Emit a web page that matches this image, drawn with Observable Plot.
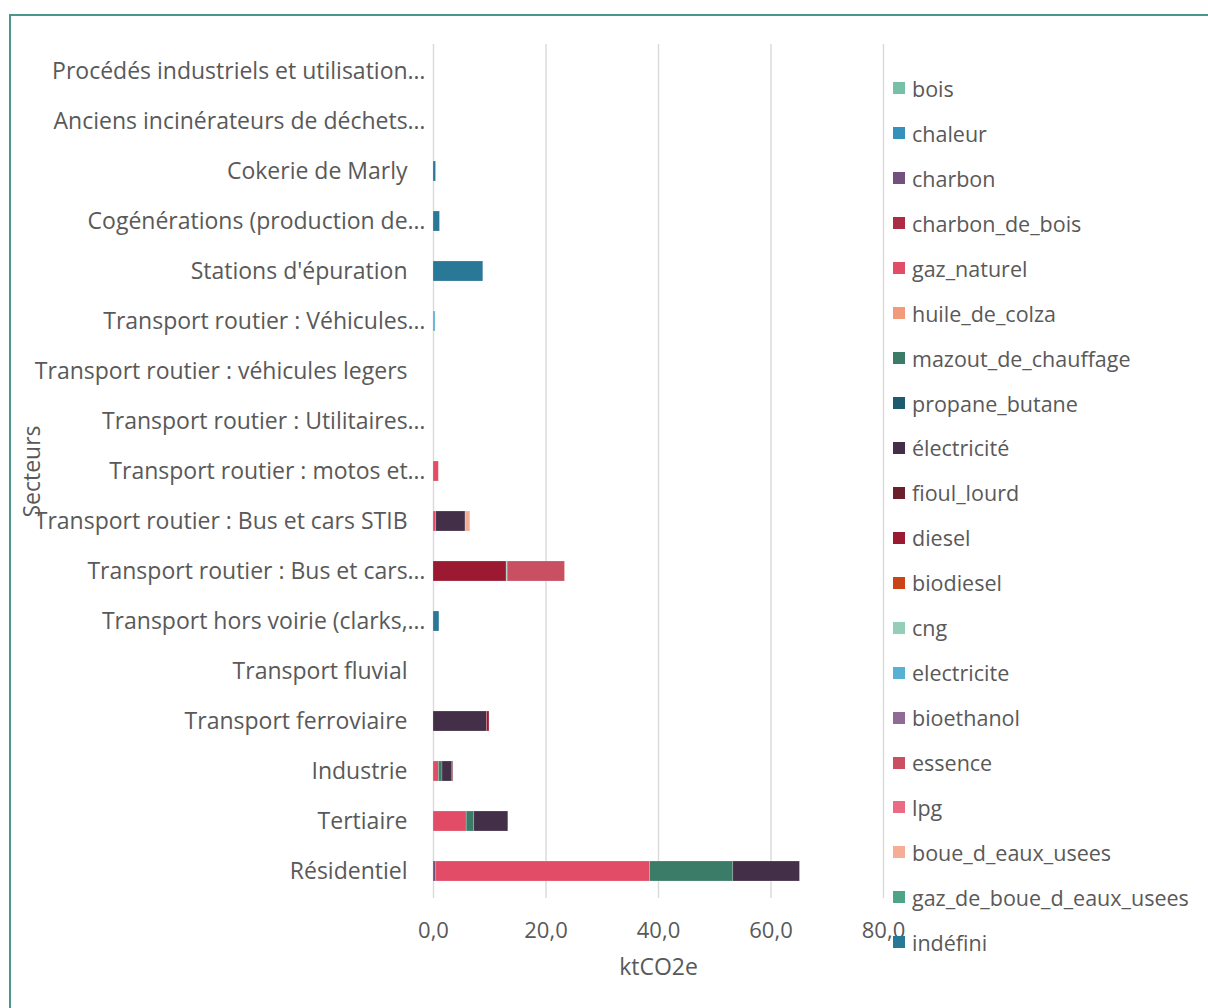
<!DOCTYPE html>
<html>
<head>
<meta charset="utf-8">
<script src="https://cdn.jsdelivr.net/npm/d3@7"></script>
<script src="https://cdn.jsdelivr.net/npm/@observablehq/plot@0.6"></script>
<style>
  html, body { margin: 0; padding: 0; background: #fff; width: 1208px; height: 1008px; overflow: hidden; }
  #frame { position: absolute; left: 9px; top: 14px; width: 1300px; height: 1100px; border: 2px solid #4a968b; box-sizing: border-box; }
  #chart { position: absolute; left: 0; top: 0; }
  #legend { position: absolute; left: 893px; top: 66px; font-family: "Open Sans", sans-serif; font-size: 21.5px; color: #595959; }
  .item { height: 44.95px; display: flex; align-items: center; white-space: nowrap; }
  .sw { width: 12px; height: 12px; margin-right: 7px; flex: none; }
</style>
</head>
<body>
<div id="frame"></div>
<div id="chart"></div>
<div id="legend"></div>
<script>
const categories = [
  "Procédés industriels et utilisation…",
  "Anciens incinérateurs de déchets…",
  "Cokerie de Marly",
  "Cogénérations (production de…",
  "Stations d'épuration",
  "Transport routier : Véhicules…",
  "Transport routier : véhicules legers",
  "Transport routier : Utilitaires…",
  "Transport routier : motos et…",
  "Transport routier : Bus et cars STIB",
  "Transport routier : Bus et cars…",
  "Transport hors voirie (clarks,…",
  "Transport fluvial",
  "Transport ferroviaire",
  "Industrie",
  "Tertiaire",
  "Résidentiel"
];

const fuels = ["bois","chaleur","charbon","charbon_de_bois","gaz_naturel","huile_de_colza",
  "mazout_de_chauffage","propane_butane","électricité","fioul_lourd","diesel","biodiesel",
  "cng","electricite","bioethanol","essence","lpg","boue_d_eaux_usees",
  "gaz_de_boue_d_eaux_usees","indéfini"];

const fuelColors = ["#76c0a7","#3592bb","#73507e","#ac2c48","#e34c67","#f29b7c",
  "#3a7c68","#1e5a70","#432f48","#6a1f2d","#9b1a31","#c94416",
  "#95cdb9","#58b0d3","#926a98","#c94f63","#ea6b83","#f5ae95",
  "#4da586","#2a7898"];

// stacked segments (sector, fuel, ktCO2e)
const segSector = [
  "Cokerie de Marly",
  "Cogénérations (production de…",
  "Stations d'épuration",
  "Transport routier : Véhicules…",
  "Transport routier : motos et…",
  "Transport routier : Bus et cars STIB","Transport routier : Bus et cars STIB","Transport routier : Bus et cars STIB",
  "Transport routier : Bus et cars…","Transport routier : Bus et cars…","Transport routier : Bus et cars…",
  "Transport hors voirie (clarks,…",
  "Transport ferroviaire","Transport ferroviaire",
  "Industrie","Industrie","Industrie","Industrie",
  "Tertiaire","Tertiaire","Tertiaire",
  "Résidentiel","Résidentiel","Résidentiel","Résidentiel"
];
const segFuel = [
  "indéfini",
  "indéfini",
  "indéfini",
  "electricite",
  "gaz_naturel",
  "gaz_naturel","électricité","boue_d_eaux_usees",
  "diesel","cng","essence",
  "indéfini",
  "électricité","diesel",
  "gaz_naturel","mazout_de_chauffage","électricité","fioul_lourd",
  "gaz_naturel","mazout_de_chauffage","électricité",
  "charbon","gaz_naturel","mazout_de_chauffage","électricité"
];
const segValue = [
  0.45,
  1.15,
  8.85,
  0.35,
  0.95,
  0.5, 5.2, 0.85,
  13.0, 0.18, 10.2,
  1.05,
  9.5, 0.45,
  0.95, 0.65, 1.65, 0.25,
  5.9, 1.35, 6.05,
  0.5, 38.0, 14.8, 11.85
];
const xTicks = [0, 20, 40, 60, 80];

const data = segSector.map((s, i) => ({sector: s, fuel: segFuel[i], value: segValue[i]}));
const fmt = d => d.toFixed(1).replace(".", ",");
const truncated = categories.filter(c => c.endsWith("…"));
const full = categories.filter(c => !c.endsWith("…"));

const chart = Plot.plot({
  width: 1208,
  height: 1008,
  marginLeft: 433,
  marginRight: 325,
  marginTop: 44,
  marginBottom: 110,
  style: {fontFamily: "'Open Sans', sans-serif", fontSize: "22px", color: "#595959", background: "transparent"},
  x: {domain: [0, 80], ticks: xTicks, label: null},
  y: {domain: categories, paddingInner: 0.6, paddingOuter: 0.3, axis: null},
  color: {domain: fuels, range: fuelColors},
  marks: [
    Plot.gridX(xTicks, {stroke: "#d9d9d9", strokeOpacity: 1, strokeWidth: 1.4}),
    Plot.barX(data, Plot.stackX({y: "sector", x: "value", fill: "fuel", order: fuels, stroke: "#fff", strokeOpacity: 0.35, strokeWidth: 0.6})),
    Plot.axisX(xTicks, {tickSize: 0, tickPadding: 24, tickFormat: fmt, fontSize: 22, fill: "#595959", label: null}),
    Plot.text(["ktCO2e"], {frameAnchor: "bottom", dy: 76, fontSize: 23, fill: "#595959"}),
    Plot.text(full, {y: d => d, text: d => d, frameAnchor: "left", textAnchor: "end", dx: -26, fontSize: 23, fill: "#595959"}),
    Plot.text(truncated, {y: d => d, text: d => d, frameAnchor: "left", textAnchor: "end", dx: -8, fontSize: 23, fill: "#595959"}),
    Plot.text(["Secteurs"], {frameAnchor: "left", textAnchor: "middle", dx: -401, rotate: -90, fontSize: 23, fill: "#595959"})
  ]
});
document.getElementById("chart").appendChild(chart);

const legend = document.getElementById("legend");
fuels.forEach((f, i) => {
  const item = document.createElement("div");
  item.className = "item";
  const sw = document.createElement("span");
  sw.className = "sw";
  sw.style.background = fuelColors[i];
  const t = document.createElement("span");
  t.textContent = f;
  item.appendChild(sw);
  item.appendChild(t);
  legend.appendChild(item);
});
</script>
</body>
</html>
